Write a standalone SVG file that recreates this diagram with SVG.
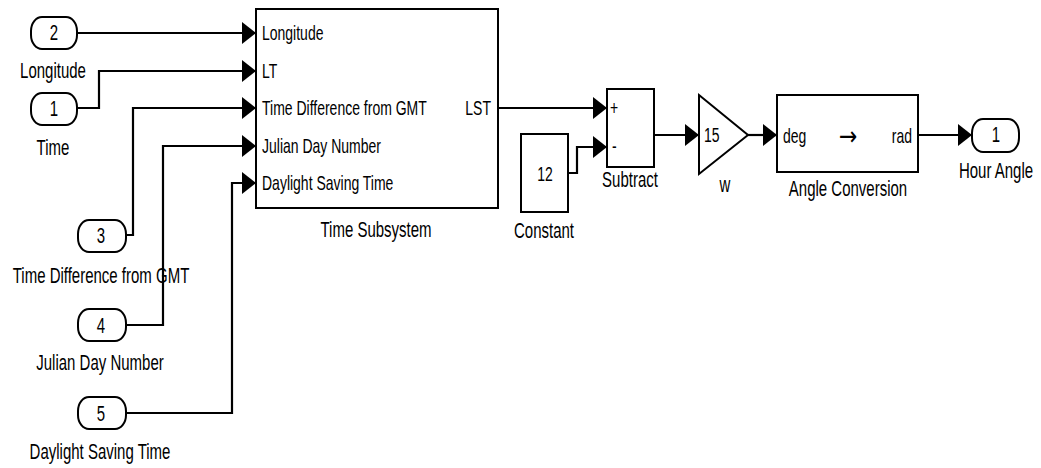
<svg xmlns="http://www.w3.org/2000/svg" width="1041" height="468" viewBox="0 0 1041 468">
<style>
text{font-family:"Liberation Sans",Arial,sans-serif;fill:#000}
.l{font-size:15px;text-anchor:middle}
.p{font-size:14px}
.c{text-anchor:middle}
.e{text-anchor:end}
.arr{font-family:"DejaVu Sans",sans-serif;font-size:22px;text-anchor:middle}
.blk{fill:#fff;stroke:#000;stroke-width:2}
.w{fill:none;stroke:#000;stroke-width:2.2}
</style>
<defs>
<marker id="ah" markerUnits="userSpaceOnUse" markerWidth="15" markerHeight="23" refX="14" refY="11" orient="auto" overflow="visible">
<path d="M0,0 L14,11 L0,22 z" fill="#000"/>
</marker>
</defs>
<rect width="1041" height="468" fill="#fff"/>
<g id="connectors">
<path class="w" marker-end="url(#ah)" d="M77,33 H256"/>
<path class="w" marker-end="url(#ah)" d="M77,108 H99 V71 H256"/>
<path class="w" marker-end="url(#ah)" d="M126,235 H133 V108 H256"/>
<path class="w" marker-end="url(#ah)" d="M126,325 H163 V146 H256"/>
<path class="w" marker-end="url(#ah)" d="M126,413 H232 V183 H256"/>
<path class="w" marker-end="url(#ah)" d="M498,108 H607"/>
<path class="w" marker-end="url(#ah)" d="M568,173 H577 V147 H607"/>
<path class="w" marker-end="url(#ah)" d="M654,135 H699"/>
<path class="w" marker-end="url(#ah)" d="M748,135 H777"/>
<path class="w" marker-end="url(#ah)" d="M918,135 H972"/>
</g>
<g id="in2">
<rect class="blk" x="31" y="17" width="46" height="32" rx="11" ry="14"/>
<text class="l" transform="translate(54,40) scale(1,1.45)">2</text>
<text class="l" transform="translate(53,78) scale(1,1.45)">Longitude</text>
</g>
<g id="in1">
<rect class="blk" x="31" y="93" width="46" height="32" rx="11" ry="14"/>
<text class="l" transform="translate(54,116) scale(1,1.45)">1</text>
<text class="l" transform="translate(53,155) scale(1,1.45)">Time</text>
</g>
<g id="in3">
<rect class="blk" x="78" y="220" width="48" height="32" rx="11" ry="14"/>
<text class="l" transform="translate(101,243) scale(1,1.45)">3</text>
<text class="l" transform="translate(101,283) scale(1,1.45)">Time Difference from GMT</text>
</g>
<g id="in4">
<rect class="blk" x="78" y="309" width="48" height="32" rx="11" ry="14"/>
<text class="l" transform="translate(101,333) scale(1,1.45)">4</text>
<text class="l" transform="translate(100,370) scale(1,1.45)">Julian Day Number</text>
</g>
<g id="in5">
<rect class="blk" x="78" y="397" width="48" height="32" rx="11" ry="14"/>
<text class="l" transform="translate(101,421) scale(1,1.45)">5</text>
<text class="l" transform="translate(100,459) scale(1,1.45)">Daylight Saving Time</text>
</g>
<g id="timesub">
<rect class="blk" x="256" y="9" width="242" height="199"/>
<text class="p" transform="translate(262,40) scale(1,1.45)">Longitude</text>
<text class="p" transform="translate(262,78) scale(1,1.45)">LT</text>
<text class="p" transform="translate(262,115) scale(1,1.45)">Time Difference from GMT</text>
<text class="p" transform="translate(262,153) scale(1,1.45)">Julian Day Number</text>
<text class="p" transform="translate(262,190) scale(1,1.45)">Daylight Saving Time</text>
<text class="p e" transform="translate(491,115) scale(1,1.45)">LST</text>
<text class="l" transform="translate(376,237) scale(1,1.45)">Time Subsystem</text>
</g>
<g id="constant">
<rect class="blk" x="521" y="134" width="47" height="78"/>
<text class="p c" transform="translate(545,181) scale(1,1.45)">12</text>
<text class="l" transform="translate(544,238) scale(1,1.45)">Constant</text>
</g>
<g id="subtract">
<rect class="blk" x="607" y="89" width="47" height="78"/>
<text class="p" transform="translate(610,115) scale(1,1.45)">+</text>
<text class="p" transform="translate(612,153) scale(1,1.45)">-</text>
<text class="l" transform="translate(630,187) scale(1,1.45)">Subtract</text>
</g>
<g id="gain">
<path class="blk" d="M699,95 L748,135 L699,174 z"/>
<text class="p" transform="translate(704,142) scale(1,1.45)">15</text>
<text class="l" transform="translate(725,192) scale(1,1.45)">w</text>
</g>
<g id="angleconv">
<rect class="blk" x="777" y="95" width="141" height="77"/>
<text class="p" transform="translate(783,143) scale(1,1.45)">deg</text>
<text class="arr" transform="translate(848,145) scale(1,1.2)">→</text>
<text class="p e" transform="translate(912,143) scale(1,1.45)">rad</text>
<text class="l" transform="translate(848,196) scale(1,1.45)">Angle Conversion</text>
</g>
<g id="out1">
<rect class="blk" x="972" y="119" width="47" height="33" rx="11" ry="14"/>
<text class="l" transform="translate(996,142) scale(1,1.45)">1</text>
<text class="l" transform="translate(996,178) scale(1,1.45)">Hour Angle</text>
</g>
</svg>
